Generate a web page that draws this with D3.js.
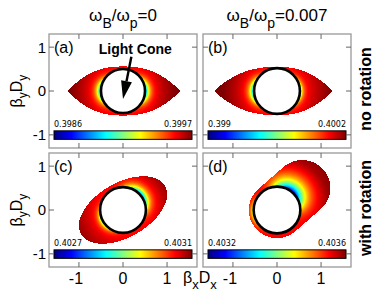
<!DOCTYPE html>
<html>
<head>
<meta charset="utf-8">
<script src="https://cdn.jsdelivr.net/npm/d3@7"></script>
<style>
  body { margin: 0; background: #fff; }
  svg { display: block; font-family: "Liberation Sans", Arial, sans-serif; }
</style>
</head>
<body>
<svg id="chart" width="382" height="294"></svg>
<script>
// values
var panelLabels = ["(a)", "(b)", "(c)", "(d)"];
var columnTitles = ["0", "0.007"];
var rowLabels = ["no rotation", "with rotation"];
var xTicks = [-1, 0, 1];
var yTicks = [-1, 0, 1];
var cbarLow = ["0.3986", "0.399", "0.4027", "0.4032"];
var cbarHigh = ["0.3997", "0.4002", "0.4031", "0.4036"];

// light cone radius per panel (beta*D units)
var coneRadius = [0.50, 0.52, 0.52, 0.53];

// allowed region outlines
var lensTips = [[-1.26, 1.30], [-1.43, 1.26]];
var lensHeight = [0.56, 0.55];
var ellipseAxes = [1.10, 0.62];
var ellipseTilt = 30;
var capsuleEnd = [0.57, 0.50];
var capsuleRadius = 0.64;

// low-value band hugging the cone: angle (deg), depth, width, sharpness
var bandAngle = [[0, 180], [0, 180], [41, 210], [52, 188]];
var bandDepth = [[0.85, 0.85], [0.6, 0.88], [0.92, 0.62], [0.95, 0.45]];
var bandWidth = [[0.08, 0.08], [0.06, 0.08], [0.10, 0.06], [0.22, 0.06]];
var bandPower = [[6, 6], [6, 6], [4, 6], [3, 5]];

var svg = d3.select("#chart");

var jet = d3.scaleLinear()
	.domain([0, 0.125, 0.375, 0.625, 0.875, 1])
	.range(["#00007f", "#0000ff", "#00ffff", "#ffff00", "#ff0000", "#7f0000"])
	.clamp(true);

var colX = [49, 203], rowY = [34, 153];
var pw = 148, ph = 114;

function inside(k, x, y) {
	if (k < 2) {
		var tip = x < 0 ? lensTips[k][0] : lensTips[k][1];
		var u = x / tip;
		if (u >= 1) return false;
		return Math.abs(y) <= lensHeight[k] * (1 - Math.pow(u, 2.4));
	}
	if (k == 2) {
		var th = ellipseTilt * Math.PI / 180;
		var xr = x * Math.cos(th) + y * Math.sin(th);
		var yr = -x * Math.sin(th) + y * Math.cos(th);
		return (xr * xr) / (ellipseAxes[0] * ellipseAxes[0]) + (yr * yr) / (ellipseAxes[1] * ellipseAxes[1]) <= 1;
	}
	// capsule from origin to capsuleEnd
	var ex = capsuleEnd[0], ey = capsuleEnd[1];
	var t = (x * ex + y * ey) / (ex * ex + ey * ey);
	t = Math.max(0, Math.min(1, t));
	var dx = x - t * ex, dy = y - t * ey;
	return dx * dx + dy * dy <= capsuleRadius * capsuleRadius;
}

function fieldValue(k, x, y) {
	var r = Math.sqrt(x * x + y * y);
	var d = r - coneRadius[k];
	var base = 0.86 + 0.14 * Math.min(1, Math.max(0, d / 0.7));
	var phi = Math.atan2(y, x);
	var drop = 0;
	bandAngle[k].forEach(function(a, i) {
		var c = Math.cos(phi - a * Math.PI / 180);
		if (c <= 0) return;
		var g = Math.pow(c, bandPower[k][i]);
		drop = Math.max(drop, bandDepth[k][i] * g * Math.exp(-d / bandWidth[k][i]));
	});
	return base * (1 - drop);
}

function drawPanel(k) {
	var col = k % 2, row = Math.floor(k / 2);
	var x0 = colX[col], y0 = rowY[row];
	var xs = d3.scaleLinear().domain([-1.68, 1.68]).range([x0, x0 + pw]);
	var ys = d3.scaleLinear().domain([-1.3, 1.3]).range([y0 + ph, y0]);

	var g = svg.append("g");

	// heat field
	var canvas = document.createElement("canvas");
	canvas.width = pw; canvas.height = ph;
	var ctx = canvas.getContext("2d");
	var img = ctx.createImageData(pw, ph);
	for (var j = 0; j < ph; j++) {
		for (var i = 0; i < pw; i++) {
			var x = xs.invert(x0 + i + 0.5), y = ys.invert(y0 + j + 0.5);
			var p = (j * pw + i) * 4;
			if (Math.sqrt(x * x + y * y) > coneRadius[k] && inside(k, x, y)) {
				var c = d3.rgb(jet(fieldValue(k, x, y)));
				img.data[p] = c.r; img.data[p + 1] = c.g; img.data[p + 2] = c.b; img.data[p + 3] = 255;
			}
		}
	}
	ctx.putImageData(img, 0, 0);
	g.append("image")
		.attr("x", x0).attr("y", y0)
		.attr("width", pw).attr("height", ph)
		.attr("href", canvas.toDataURL());

	// light cone
	g.append("circle")
		.attr("cx", xs(0)).attr("cy", ys(0))
		.attr("r", xs(coneRadius[k]) - xs(0))
		.attr("fill", "#fff")
		.attr("stroke", "#000")
		.attr("stroke-width", 2.6);

	// colour bar centred on y = -1
	var cb = g.append("g");
	var defs = svg.append("defs");
	var grad = defs.append("linearGradient").attr("id", "jet" + k);
	d3.range(0, 1.0001, 0.125).forEach(function(v) {
		grad.append("stop").attr("offset", v).attr("stop-color", jet(v));
	});
	var cbx = x0 + 5, cbw = pw - 10;
	cb.append("rect")
		.attr("x", cbx).attr("y", ys(-1) - 4)
		.attr("width", cbw).attr("height", 8.5)
		.attr("fill", "url(#jet" + k + ")")
		.attr("stroke", "#000")
		.attr("stroke-width", 1);
	cb.append("text")
		.attr("x", cbx).attr("y", ys(-1) - 7.5)
		.attr("font-family", "DejaVu Sans").attr("font-size", 8)
		.text(cbarLow[k]);
	cb.append("text")
		.attr("x", cbx + cbw).attr("y", ys(-1) - 7.5)
		.attr("text-anchor", "end")
		.attr("font-family", "DejaVu Sans").attr("font-size", 8)
		.text(cbarHigh[k]);

	// frame and inward ticks
	g.append("rect")
		.attr("x", x0).attr("y", y0)
		.attr("width", pw).attr("height", ph)
		.attr("fill", "none")
		.attr("stroke", "#999")
		.attr("stroke-width", 1.3);
	var tl = 5;
	xTicks.forEach(function(t) {
		g.append("line").attr("x1", xs(t)).attr("x2", xs(t)).attr("y1", y0).attr("y2", y0 + tl).attr("stroke", "#666");
		g.append("line").attr("x1", xs(t)).attr("x2", xs(t)).attr("y1", y0 + ph).attr("y2", y0 + ph - tl).attr("stroke", "#666");
	});
	yTicks.forEach(function(t) {
		g.append("line").attr("x1", x0).attr("x2", x0 + tl).attr("y1", ys(t)).attr("y2", ys(t)).attr("stroke", "#666");
		g.append("line").attr("x1", x0 + pw).attr("x2", x0 + pw - tl).attr("y1", ys(t)).attr("y2", ys(t)).attr("stroke", "#666");
	});

	if (col == 0) {
		yTicks.forEach(function(t) {
			g.append("text")
				.attr("x", x0 - 3).attr("y", ys(t))
				.attr("dy", "0.36em")
				.attr("text-anchor", "end")
				.attr("font-size", 15)
				.text(t < 0 ? "-" + Math.abs(t) : t);
		});
	}
	if (row == 1) {
		xTicks.forEach(function(t) {
			g.append("text")
				.attr("x", xs(t) - (t < 0 ? 3 : 0)).attr("y", 284)
				.attr("text-anchor", "middle")
				.attr("font-size", 16)
				.text(t < 0 ? "-" + Math.abs(t) : t);
		});
	}

	g.append("text")
		.attr("x", x0 + 5).attr("y", y0 + 19)
		.attr("font-size", 16)
		.text(panelLabels[k]);

	if (k == 0) {
		var tip = [xs(0.0), ys(-0.18)], tail = [xs(0.19), ys(0.78)];
		var ang = Math.atan2(tip[1] - tail[1], tip[0] - tail[0]);
		var hl = 18, hw = 5.5;
		var bx = tip[0] - hl * Math.cos(ang), by = tip[1] - hl * Math.sin(ang);
		g.append("line")
			.attr("x1", tail[0]).attr("y1", tail[1])
			.attr("x2", bx).attr("y2", by)
			.attr("stroke", "#000").attr("stroke-width", 2.4);
		g.append("path")
			.attr("d", "M" + tip[0] + "," + tip[1] +
				"L" + (bx + hw * Math.sin(ang)) + "," + (by - hw * Math.cos(ang)) +
				"L" + (bx - hw * Math.sin(ang)) + "," + (by + hw * Math.cos(ang)) + "Z")
			.attr("fill", "#000");
		g.append("text")
			.attr("x", xs(0.28)).attr("y", y0 + 20)
			.attr("text-anchor", "middle")
			.attr("font-size", 14).attr("font-weight", "bold")
			.text("Light Cone");
	}
}

d3.range(4).forEach(drawPanel);

// column titles
columnTitles.forEach(function(v, c) {
	var t = svg.append("text")
		.attr("x", colX[c] + pw / 2).attr("y", 21)
		.attr("text-anchor", "middle")
		.attr("font-size", 17);
	t.append("tspan").text("\u03c9");
	t.append("tspan").attr("font-size", 14).attr("dy", 7).text("B");
	t.append("tspan").attr("dy", -7).text("/\u03c9");
	t.append("tspan").attr("font-size", 14).attr("dy", 7).text("p");
	t.append("tspan").attr("dy", -7).text("=" + v);
});

// row labels on the right
rowLabels.forEach(function(s, r) {
	svg.append("text")
		.attr("transform", "translate(371," + (rowY[r] + ph / 2 - 2) + ") rotate(-90)")
		.attr("text-anchor", "middle")
		.attr("font-size", 16).attr("font-weight", "bold")
		.text(s);
});

// y axis labels
rowY.forEach(function(y0) {
	var t = svg.append("text")
		.attr("transform", "translate(22," + (y0 + ph / 2) + ") rotate(-90)")
		.attr("text-anchor", "middle")
		.attr("font-size", 16);
	t.append("tspan").text("\u03b2");
	t.append("tspan").attr("font-size", 12).attr("dy", 5).text("y");
	t.append("tspan").attr("dy", -5).text("D");
	t.append("tspan").attr("font-size", 12).attr("dy", 5).text("y");
});

// x axis label
var xl = svg.append("text")
	.attr("x", 183).attr("y", 283)
	.attr("font-size", 16);
xl.append("tspan").text("\u03b2");
xl.append("tspan").attr("font-size", 13).attr("dy", 6).text("x");
xl.append("tspan").attr("dy", -6).text("D");
xl.append("tspan").attr("font-size", 13).attr("dy", 6).text("x");
</script>
</body>
</html>
